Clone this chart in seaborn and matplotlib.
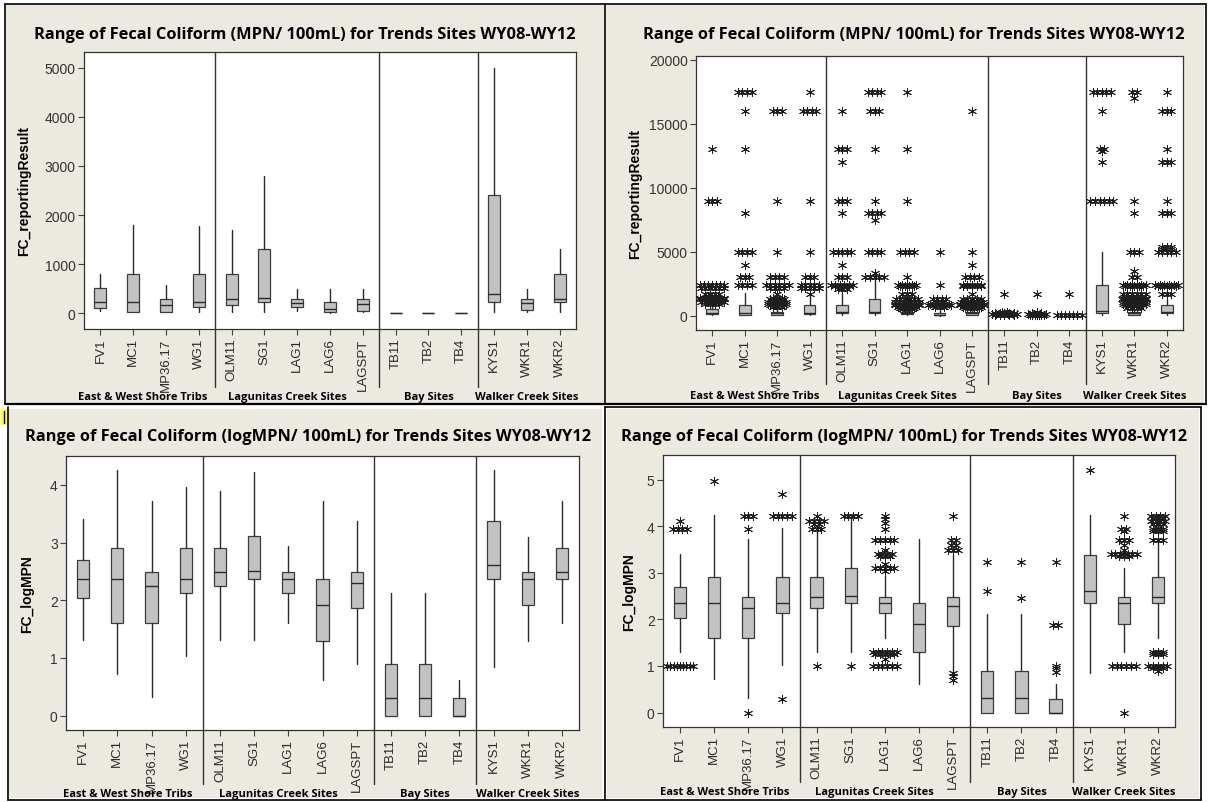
import matplotlib
matplotlib.use("Agg")
import matplotlib.pyplot as plt
import seaborn as sns
import pandas as pd
from matplotlib.lines import Line2D
from matplotlib.patches import Rectangle
import matplotlib.transforms as mtrans

sites = ["FV1", "MC1", "MP36.17", "WG1", "OLM11", "SG1", "LAG1", "LAG6", "LAGSPT",
         "TB11", "TB2", "TB4", "KYS1", "WKR1", "WKR2"]
groups = ["East & West Shore Tribs", "Lagunitas Creek Sites", "Bay Sites", "Walker Creek Sites"]
group_sizes = [4, 5, 3, 3]

# box statistics, MPN/100mL
mpn_wlo = [55, 20, 20, 20, 34, 30, 55, 10, 20, 0, 0, 0, 20, 20, 20]
mpn_q1 = [103, 34, 34, 123, 171, 226, 123, 20, 55, 0, 0, 0, 226, 75, 226]
mpn_med = [226, 226, 171, 226, 295, 315, 212, 89, 192, 3, 3, 3, 397, 212, 295]
mpn_q3 = [514, 808, 295, 808, 808, 1300, 295, 226, 295, 12, 12, 12, 2418, 295, 808]
mpn_whi = [800, 1800, 580, 1780, 1700, 2795, 486, 486, 486, 12, 12, 12, 5000, 486, 1300]

# outliers, MPN/100mL: (value, count)
mpn_out = {
    "FV1": [(13000, 1), (9000, 3), (2400, 7), (2200, 6), (1700, 4), (1400, 7), (1300, 8), (1100, 6), (900, 4)],
    "MC1": [(17500, 4), (16000, 1), (13000, 1), (8000, 1), (5000, 4), (4000, 1), (3000, 3), (2400, 4)],
    "MP36.17": [(16000, 3), (9000, 1), (5000, 1), (3000, 4), (2400, 6), (2200, 4), (1700, 1), (1400, 3),
                (1300, 4), (1100, 5), (900, 5), (800, 4), (700, 3)],
    "WG1": [(17500, 1), (16000, 4), (9000, 1), (5000, 1), (3000, 3), (2400, 5), (2200, 5), (1700, 1)],
    "OLM11": [(16000, 1), (13000, 3), (12000, 1), (9000, 3), (8000, 1), (5000, 5), (4000, 1), (3000, 3),
              (2400, 6), (2300, 4), (2100, 3)],
    "SG1": [(17500, 4), (16000, 3), (13000, 1), (9000, 1), (8000, 4), (7500, 1), (5000, 4), (3300, 1), (3000, 5)],
    "LAG1": [(17500, 1), (13000, 1), (9000, 1), (5000, 4), (3000, 1), (2400, 5), (2300, 4), (1700, 3),
             (1300, 6), (1100, 7), (900, 7), (800, 7), (700, 5), (600, 4), (500, 3)],
    "LAG6": [(5000, 1), (2400, 1), (1300, 4), (1100, 2), (900, 5), (800, 6), (700, 3)],
    "LAGSPT": [(16000, 1), (5000, 1), (4000, 1), (3000, 4), (2400, 5), (2300, 5), (1700, 1), (1300, 5),
               (1100, 6), (900, 7), (800, 7), (700, 5), (600, 4)],
    "TB11": [(1700, 1), (300, 2), (200, 5), (100, 7), (50, 5)],
    "TB2": [(1700, 1), (300, 1), (200, 3), (100, 5), (50, 4), (20, 3)],
    "TB4": [(1700, 1), (30, 7)],
    "KYS1": [(17500, 5), (16000, 1), (13000, 2), (12900, 1), (12000, 1), (9000, 6)],
    "WKR1": [(17500, 2), (17000, 1), (9000, 1), (8000, 1), (5000, 3), (3500, 1), (3000, 2), (2400, 6),
             (2300, 5), (1700, 6), (1400, 6), (1300, 7), (1100, 6), (900, 6), (800, 5), (600, 4)],
    "WKR2": [(17500, 1), (16000, 3), (13000, 1), (12000, 3), (9000, 1), (8000, 3), (5400, 3), (5200, 3),
             (5000, 5), (2400, 6), (2300, 5), (1700, 3)],
}

# box statistics, logMPN/100mL
log_wlo = [1.31, 0.72, 0.32, 1.03, 1.31, 1.31, 1.61, 0.62, 0.90, 0.0, 0.0, 0.0, 0.84, 1.30, 1.61]
log_q1 = [2.03, 1.60, 1.60, 2.13, 2.24, 2.36, 2.13, 1.30, 1.86, 0.0, 0.0, 0.0, 2.36, 1.91, 2.36]
log_med = [2.36, 2.36, 2.24, 2.36, 2.49, 2.51, 2.36, 1.91, 2.29, 0.31, 0.31, 0.0, 2.61, 2.36, 2.49]
log_q3 = [2.70, 2.90, 2.49, 2.90, 2.90, 3.11, 2.49, 2.36, 2.49, 0.90, 0.90, 0.30, 3.38, 2.49, 2.90]
log_whi = [3.40, 4.25, 3.72, 3.96, 3.90, 4.22, 2.94, 3.72, 3.38, 2.12, 2.12, 0.62, 4.25, 3.10, 3.72]

log_out = {
    "FV1": [(4.11, 1), (3.95, 4), (1.0, 9)],
    "MC1": [(4.97, 1)],
    "MP36.17": [(4.23, 3), (3.95, 1), (0.0, 1)],
    "WG1": [(4.70, 1), (4.23, 5), (0.30, 1)],
    "OLM11": [(4.23, 1), (4.11, 4), (4.04, 2), (3.95, 3), (1.0, 1)],
    "SG1": [(4.23, 4), (1.0, 1)],
    "LAG1": [(4.23, 1), (4.15, 1), (4.08, 1), (3.95, 1), (3.70, 5), (3.48, 1), (3.40, 4), (3.36, 3),
             (3.18, 1), (3.11, 5), (3.04, 1), (1.30, 6), (1.26, 5), (1.15, 1), (1.0, 6)],
    "LAG6": [],
    "LAGSPT": [(4.23, 1), (3.70, 2), (3.60, 2), (3.48, 3), (0.85, 1), (0.78, 1), (0.70, 1)],
    "TB11": [(3.23, 1), (2.60, 1)],
    "TB2": [(3.23, 1), (2.45, 1)],
    "TB4": [(3.23, 1), (1.88, 2), (1.0, 1), (0.95, 1), (0.88, 1)],
    "KYS1": [(5.20, 1)],
    "WKR1": [(4.23, 1), (3.95, 2), (3.90, 1), (3.70, 3), (3.60, 1), (3.50, 1), (3.40, 7), (3.36, 3),
             (1.0, 6), (0.0, 1)],
    "WKR2": [(4.23, 4), (4.18, 3), (4.11, 4), (4.04, 3), (3.95, 3), (3.90, 3), (3.70, 3), (1.30, 3),
             (1.26, 3), (1.0, 5), (0.95, 3), (0.90, 1)],
}

title_mpn = "Range of Fecal Coliform (MPN/ 100mL) for Trends Sites WY08-WY12"
title_log = "Range of Fecal Coliform (logMPN/ 100mL) for Trends Sites WY08-WY12"

W, H = 1209, 803
sns.set_theme(style="white")
plt.rcParams["font.family"] = ["Liberation Sans", "DejaVu Sans"]
fig = plt.figure(figsize=(W / 100, H / 100), dpi=100)
fig.patch.set_facecolor("white")

BEIGE = "#ece9e1"
BOXC = "#c2c2c2"
EDGE = "#3c3c3c"
TITLE_FONT = ["Open Sans", "DejaVu Sans"]
group_label_x = [1.3, 5.7, 10.0, 13.0]


def px_rect(l, t, r, b):
    return [l / W, 1 - b / H, (r - l) / W, (b - t) / H]


def fig_line(x0, y0, x1, y1, lw=1.2):
    fig.add_artist(Line2D([x0 / W, x1 / W], [1 - y0 / H, 1 - y1 / H], color="black", lw=lw,
                          transform=fig.transFigure))


def draw_panel(cell, plot, title_xy, title, ylabel, ylabel_x, stats, outliers, show_out,
               ylim, yticks, sep_bottom, group_y):
    cl, ct, cr, cb = cell
    fig.add_artist(Rectangle((cl / W, 1 - cb / H), (cr - cl) / W, (cb - ct) / H,
                             transform=fig.transFigure, facecolor=BEIGE, edgecolor="none", zorder=-5))
    l, t, r, b = plot
    ax = fig.add_axes(px_rect(l, t, r, b))
    ax.set_facecolor("white")

    wlo, q1, med, q3, whi = stats
    bstats = [dict(whislo=wlo[i], q1=q1[i], med=med[i], q3=q3[i], whishi=whi[i], label=s)
              for i, s in enumerate(sites)]
    ax.bxp(bstats, positions=range(len(sites)), widths=0.36, patch_artist=True,
           showfliers=False, showcaps=False,
           boxprops=dict(facecolor=BOXC, edgecolor=EDGE, linewidth=0.9),
           medianprops=dict(color="#2a2a2a", linewidth=1.0),
           whiskerprops=dict(color="#2a2a2a", linewidth=1.0))

    if show_out:
        rows = []
        for i, s in enumerate(sites):
            for v, n in outliers[s]:
                step = min(0.14, 0.75 / max(n - 1, 1))
                for k in range(n):
                    rows.append({"x": i + (k - (n - 1) / 2) * step, "y": v})
        df = pd.DataFrame(rows)
        sns.scatterplot(data=df, x="x", y="y", marker=(6, 2, 0), s=36, color="#1e1e1e",
                        linewidth=0.65, ax=ax, legend=False, zorder=3)

    ax.set_xlim(-0.5, len(sites) - 0.5)
    ax.set_ylim(*ylim)
    ax.set_yticks(yticks)
    ax.set_yticklabels([str(v) for v in yticks], fontsize=10, color="#333333")
    ax.set_xticks(range(len(sites)))
    ax.set_xticklabels(sites, rotation=90, fontsize=9.5, color="#2a2a2a")
    ax.tick_params(axis="both", direction="out", length=4, width=0.8, color="#444444",
                   bottom=True, left=True, pad=2)
    ax.set_xlabel("")
    ax.set_ylabel(ylabel, fontsize=10, fontweight="bold", color="black")
    ax.yaxis.set_label_coords((ylabel_x - l) / (r - l), 0.5)
    for sp in ax.spines.values():
        sp.set_color("#333333")
        sp.set_linewidth(0.9)

    trans = mtrans.blended_transform_factory(ax.transData, ax.transAxes)
    ybot = (b - sep_bottom) / (b - t)
    pos = 0
    for gsize in group_sizes[:-1]:
        pos += gsize
        ax.plot([pos - 0.5, pos - 0.5], [1, ybot], transform=trans, color="#333333",
                lw=1.0, clip_on=False)
    gy = (b - group_y) / (b - t)
    for g, gx in zip(groups, group_label_x):
        ax.text(gx, gy, g, transform=trans, ha="center", va="center", fontsize=8,
                fontweight="bold", color="black", family=TITLE_FONT)

    fig.text(title_xy[0] / W, 1 - title_xy[1] / H, title, ha="center", va="center",
             fontsize=11.8, fontweight="bold", color="black", family=TITLE_FONT)
    return ax


mpn_stats = (mpn_wlo, mpn_q1, mpn_med, mpn_q3, mpn_whi)
log_stats = (log_wlo, log_q1, log_med, log_q3, log_whi)

draw_panel((6, 6, 604, 404), (84, 53, 576, 330), (305, 35), title_mpn, "FC_reportingResult", 31,
           mpn_stats, mpn_out, False, (-320, 5320), [0, 1000, 2000, 3000, 4000, 5000], 388, 398)
draw_panel((606, 6, 1204, 404), (696, 57, 1183, 331), (914, 35), title_mpn, "FC_reportingResult", 642,
           mpn_stats, mpn_out, True, (-1120, 20310), [0, 5000, 10000, 15000, 20000], 385, 397)
draw_panel((9, 410, 602, 799), (66, 457, 579, 731), (308, 437), title_log, "FC_logMPN", 34,
           log_stats, log_out, False, (-0.25, 4.5), [0, 1, 2, 3, 4], 785, 795)
draw_panel((607, 410, 1199, 799), (663, 456, 1175, 728), (904, 437), title_log, "FC_logMPN", 636,
           log_stats, log_out, True, (-0.31, 5.53), [0, 1, 2, 3, 4, 5], 783, 793)

# cell borders
fig_line(5, 5, 1206, 5)
fig_line(5, 405, 1206, 405, lw=1.6)
fig_line(5, 5, 5, 405)
fig_line(605, 5, 605, 405)
fig_line(1206, 5, 1206, 405)
fig_line(605, 408, 1201, 408)
fig_line(8, 408, 8, 801)
fig_line(605, 408, 605, 801)
fig_line(1201, 408, 1201, 801)
fig_line(8, 801, 1201, 801)
fig.add_artist(Rectangle((1 / W, 1 - 426 / H), 7 / W, 16 / H, transform=fig.transFigure,
                         facecolor="#ffff33", edgecolor="none"))
fig_line(4, 412, 4, 424, lw=1.0)

fig.savefig("out.png", dpi=100)
